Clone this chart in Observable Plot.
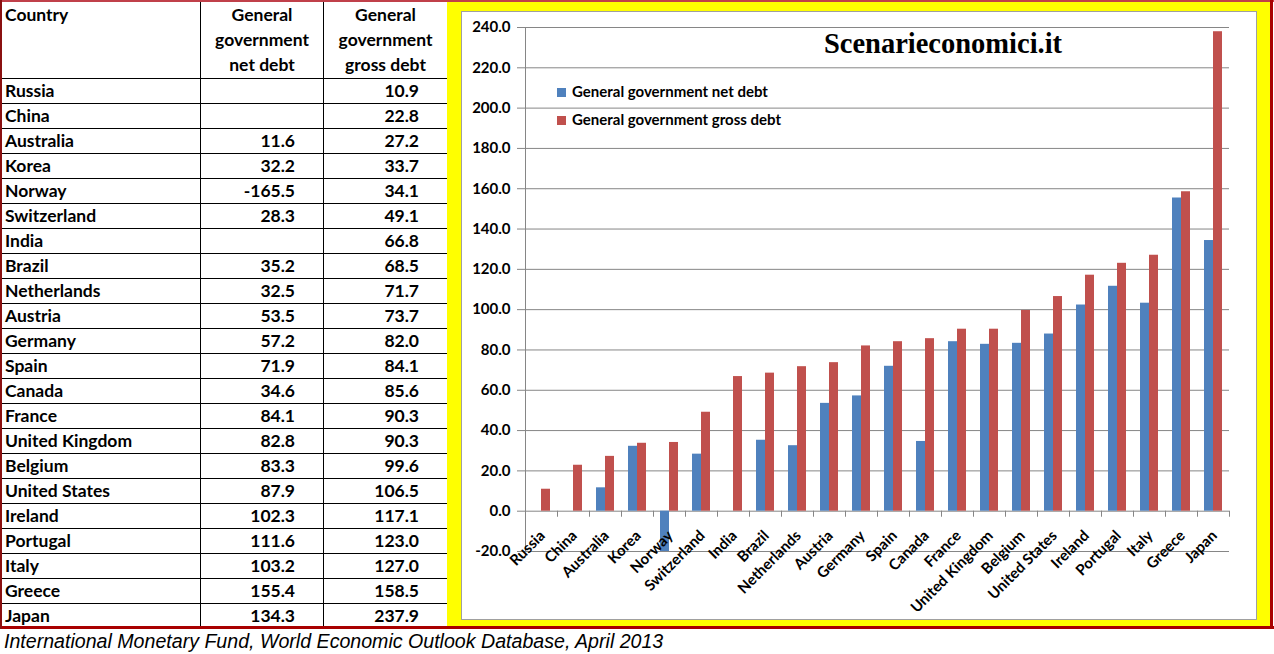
<!DOCTYPE html>
<html>
<head>
<meta charset="utf-8">
<script src="https://cdn.jsdelivr.net/npm/d3@7"></script>
<script src="https://cdn.jsdelivr.net/npm/@observablehq/plot@0.6"></script>
<style>
  html, body { margin: 0; padding: 0; background: #fff; }
  #page { position: relative; width: 1274px; height: 654px; overflow: hidden; background: #fff; font-family: Lato, "Open Sans", sans-serif; }
  #tbl { position: absolute; left: 0; top: 0; border-collapse: collapse; table-layout: fixed; font-weight: bold; font-size: 17.5px; color: #000; }
  #tbl td { border: 1px solid #000; padding: 0; height: 24px; line-height: 24px; overflow: hidden; white-space: nowrap; }
  #tbl td.c { padding-left: 4px; text-align: left; }
  #tbl td.n { text-align: right; padding-right: 28px; }
  #tbl tr.h td { height: 76px; vertical-align: top; line-height: 25px; text-align: center; padding-top: 1px; }
  #tbl tr.h td.c { text-align: left; }
  #yellow { position: absolute; left: 447px; top: 2px; width: 823px; height: 624px; background: #ffff00; }
  #chart { position: absolute; left: 461px; top: 11px; width: 794px; height: 607px; background: #fff; border: 1px solid #a0a0a0; }
  #plotwrap { position: absolute; left: 461px; top: 12px; }
  #title { position: absolute; left: 943px; top: 28px; transform: translateX(-50%); font-family: "Liberation Serif", serif; font-weight: bold; font-size: 28.5px; white-space: nowrap; color: #000; }
  .leg { position: absolute; left: 557px; font-weight: bold; font-size: 15px; white-space: nowrap; color: #000; }
  .leg span.sw { display: inline-block; width: 9px; height: 9px; margin-right: 6px; }
  #caption { position: absolute; left: 4px; top: 630px; font-family: "Liberation Sans", Arial, sans-serif; font-style: italic; font-size: 19.6px; white-space: nowrap; color: #000; }
  #topline { position: absolute; left: 0; top: 0; width: 1274px; height: 2px; background: #c0404a; }
  #botline { position: absolute; left: 0; top: 626px; width: 1274px; height: 3px; background: #a80000; }
  #rightline { position: absolute; left: 1270px; top: 0; width: 3px; height: 629px; background: #a80000; }
  #leftline { position: absolute; left: 0; top: 0; width: 2px; height: 629px; background: #8a1010; }
</style>
</head>
<body>
<div id="page">
  <table id="tbl"></table>
  <div id="yellow"></div>
  <div id="chart"></div>
  <div id="plotwrap"></div>
  <div id="title">Scenarieconomici.it</div>
  <div id="legend"></div>
  <div id="caption">International Monetary Fund, World Economic Outlook Database, April 2013</div>
  <div id="topline"></div>
  <div id="botline"></div>
  <div id="rightline"></div>
  <div id="leftline"></div>
</div>
<script>
const countries = ["Russia", "China", "Australia", "Korea", "Norway", "Switzerland", "India", "Brazil", "Netherlands", "Austria", "Germany", "Spain", "Canada", "France", "United Kingdom", "Belgium", "United States", "Ireland", "Portugal", "Italy", "Greece", "Japan"];
const netDebt = [null, null, 11.6, 32.2, -165.5, 28.3, null, 35.2, 32.5, 53.5, 57.2, 71.9, 34.6, 84.1, 82.8, 83.3, 87.9, 102.3, 111.6, 103.2, 155.4, 134.3];
const grossDebt = [10.9, 22.8, 27.2, 33.7, 34.1, 49.1, 66.8, 68.5, 71.7, 73.7, 82.0, 84.1, 85.6, 90.3, 90.3, 99.6, 106.5, 117.1, 123.0, 127.0, 158.5, 237.9];
const seriesNames = ["General government net debt", "General government gross debt"];
const seriesColors = ["#4f81bd", "#c0504d"];
const yTicks = [-20, 0, 20, 40, 60, 80, 100, 120, 140, 160, 180, 200, 220, 240];
const tableHeaders = ["Country", "General<br>government<br>net debt", "General<br>government<br>gross debt"];

// table
const tbl = document.getElementById("tbl");
const colg = document.createElement("colgroup");
colg.innerHTML = '<col style="width:200px"><col style="width:123px"><col style="width:124px">';
tbl.appendChild(colg);
const hr = document.createElement("tr");
hr.className = "h";
hr.innerHTML = `<td class="c">${tableHeaders[0]}</td><td>${tableHeaders[1]}</td><td>${tableHeaders[2]}</td>`;
tbl.appendChild(hr);
countries.forEach((c, i) => {
  const tr = document.createElement("tr");
  const n = netDebt[i] == null ? "" : netDebt[i].toFixed(1);
  const g = grossDebt[i] == null ? "" : grossDebt[i].toFixed(1);
  tr.innerHTML = `<td class="c">${c}</td><td class="n">${n}</td><td class="n">${g}</td>`;
  tbl.appendChild(tr);
});

// legend
const legend = document.getElementById("legend");
seriesNames.forEach((s, i) => {
  const d = document.createElement("div");
  d.className = "leg";
  d.style.top = (82 + i * 28) + "px";
  d.innerHTML = `<span class="sw" style="background:${seriesColors[i]}"></span>${s}`;
  legend.appendChild(d);
});

const rows = countries.map((c, i) => ({country: c, net: netDebt[i], gross: grossDebt[i]}));
const grey = "#868686";

const chart = Plot.plot({
  width: 795,
  height: 606,
  marginLeft: 64,
  marginRight: 27,
  marginTop: 15,
  marginBottom: 67,
  style: {fontFamily: "Lato, sans-serif", fontWeight: "bold", fontSize: "15px", color: "#000", background: "transparent", overflow: "visible"},
  x: {domain: countries, padding: 0, axis: null},
  y: {domain: [-20, 240], axis: null},
  marks: [
    Plot.gridY(yTicks, {stroke: grey, strokeOpacity: 1}),
    Plot.axisY(yTicks, {tickSize: 8, text: null, stroke: grey, strokeOpacity: 1}),
    Plot.axisY(yTicks, {tickSize: 0, tickPadding: 15, tickFormat: d => d.toFixed(1), fill: "#000", fontSize: 15, fontWeight: "bold"}),
    Plot.frame({anchor: "left", stroke: grey}),
    Plot.ruleX(countries, {x: d => d, y1: 0, y2: -3, dx: -16, stroke: grey}),
    Plot.ruleX([countries[countries.length - 1]], {x: d => d, y1: 0, y2: -3, dx: 16, stroke: grey}),
    Plot.barY(rows, {x: "country", y: "net", fill: seriesColors[0], insetLeft: 7, insetRight: 16, clip: true}),
    Plot.barY(rows, {x: "country", y: "gross", fill: seriesColors[1], insetLeft: 16, insetRight: 7, clip: true}),
    Plot.text(countries, {x: d => d, y: () => 0, text: d => d, rotate: -45, textAnchor: "end", lineAnchor: "middle", dx: 1, dy: 22, fontSize: 15, fontWeight: "bold", fill: "#000"})
  ]
});
document.getElementById("plotwrap").appendChild(chart);
</script>
</body>
</html>
